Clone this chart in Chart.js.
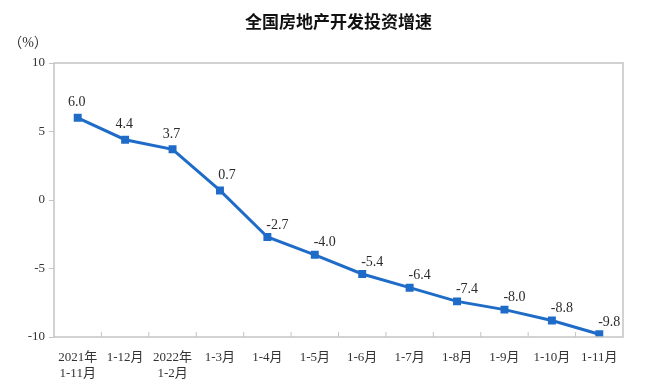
<!DOCTYPE html>
<html>
<head>
<meta charset="utf-8">
<script src="https://cdn.jsdelivr.net/npm/chart.js@4/dist/chart.umd.min.js"></script>
<style>
  html, body { margin: 0; padding: 0; background: #fff; }
  #wrap { width: 669px; height: 390px; }
</style>
</head>
<body>
<div id="wrap"><canvas id="c" width="669" height="390"></canvas></div>
<script>
// chart data
const months = [
  ["2021年", "1-11月"], "1-12月", ["2022年", "1-2月"], "1-3月", "1-4月", "1-5月",
  "1-6月", "1-7月", "1-8月", "1-9月", "1-10月", "1-11月"
];
const growth = [6.0, 4.4, 3.7, 0.7, -2.7, -4.0, -5.4, -6.4, -7.4, -8.0, -8.8, -9.8];
const yTicks = [-10, -5, 0, 5, 10];

const titleText = "全国房地产开发投资增速";
const unitText = "（%）";
const serif = "'Liberation Serif', 'Noto Sans CJK SC', serif";
const axisGray = "#c4c4c4";

// frame, inner x ticks, title, value labels
const decor = {
  id: "decor",
  afterDraw(chart) {
    const ctx = chart.ctx;
    const area = chart.chartArea;
    const x = chart.scales.x;
    ctx.save();
    ctx.strokeStyle = axisGray;
    ctx.lineWidth = 1.5;
    ctx.strokeRect(area.left, area.top, area.right - area.left, area.bottom - area.top);

    // little tick marks between the categories, pointing inward
    ctx.lineWidth = 1;
    for (let i = 1; i < months.length; i++) {
      const px = (x.getPixelForValue(i - 1) + x.getPixelForValue(i)) / 2;
      ctx.beginPath();
      ctx.moveTo(px, area.bottom);
      ctx.lineTo(px, area.bottom - 5);
      ctx.stroke();
    }

    // title + unit
    ctx.fillStyle = "#111";
    ctx.font = "bold 17px 'Noto Sans CJK SC', sans-serif";
    ctx.textAlign = "center";
    ctx.textBaseline = "middle";
    ctx.fillText(titleText, (area.left + area.right) / 2, 22);
    ctx.font = "14px " + serif;
    ctx.fillStyle = "#333";
    ctx.fillText(unitText, 28, 43);

    // value labels
    const meta = chart.getDatasetMeta(0);
    ctx.font = "14px " + serif;
    ctx.fillStyle = "#2b2b2b";
    meta.data.forEach((pt, i) => {
      const v = growth[i];
      let dx = v < 0 ? 10 : -1;
      if (i === 3) dx = 7;
      const dy = v < 0 ? -12 : -15;
      ctx.fillText(v.toFixed(1), pt.x + dx, pt.y + dy);
    });
    ctx.restore();
  }
};

new Chart(document.getElementById("c"), {
  type: "line",
  data: {
    labels: months,
    datasets: [{
      data: growth,
      borderColor: "#1f6cc8",
      backgroundColor: "#1f6cc8",
      borderWidth: 3,
      pointStyle: "rect",
      pointRadius: 3.5,
      tension: 0
    }]
  },
  options: {
    responsive: false,
    animation: false,
    layout: { padding: { left: 0, right: 46, top: 63, bottom: 0 } },
    plugins: {
      legend: { display: false },
      tooltip: { enabled: false }
    },
    scales: {
      x: {
        offset: true,
        grid: { display: false },
        border: { display: false },
        ticks: {
          color: "#333",
          font: { family: serif, size: 13 },
          maxRotation: 0,
          autoSkip: false,
          padding: 5
        },
        afterFit(scale) { scale.height = 53; }
      },
      y: {
        min: -10,
        max: 10,
        afterBuildTicks(scale) { scale.ticks = yTicks.map(v => ({ value: v })); },
        grid: { drawOnChartArea: false, tickLength: 5, color: axisGray },
        border: { display: false },
        ticks: {
          color: "#333",
          font: { family: serif, size: 13 },
          padding: 4
        },
        afterFit(scale) { scale.width = 54; }
      }
    }
  },
  plugins: [decor]
});
</script>
</body>
</html>
